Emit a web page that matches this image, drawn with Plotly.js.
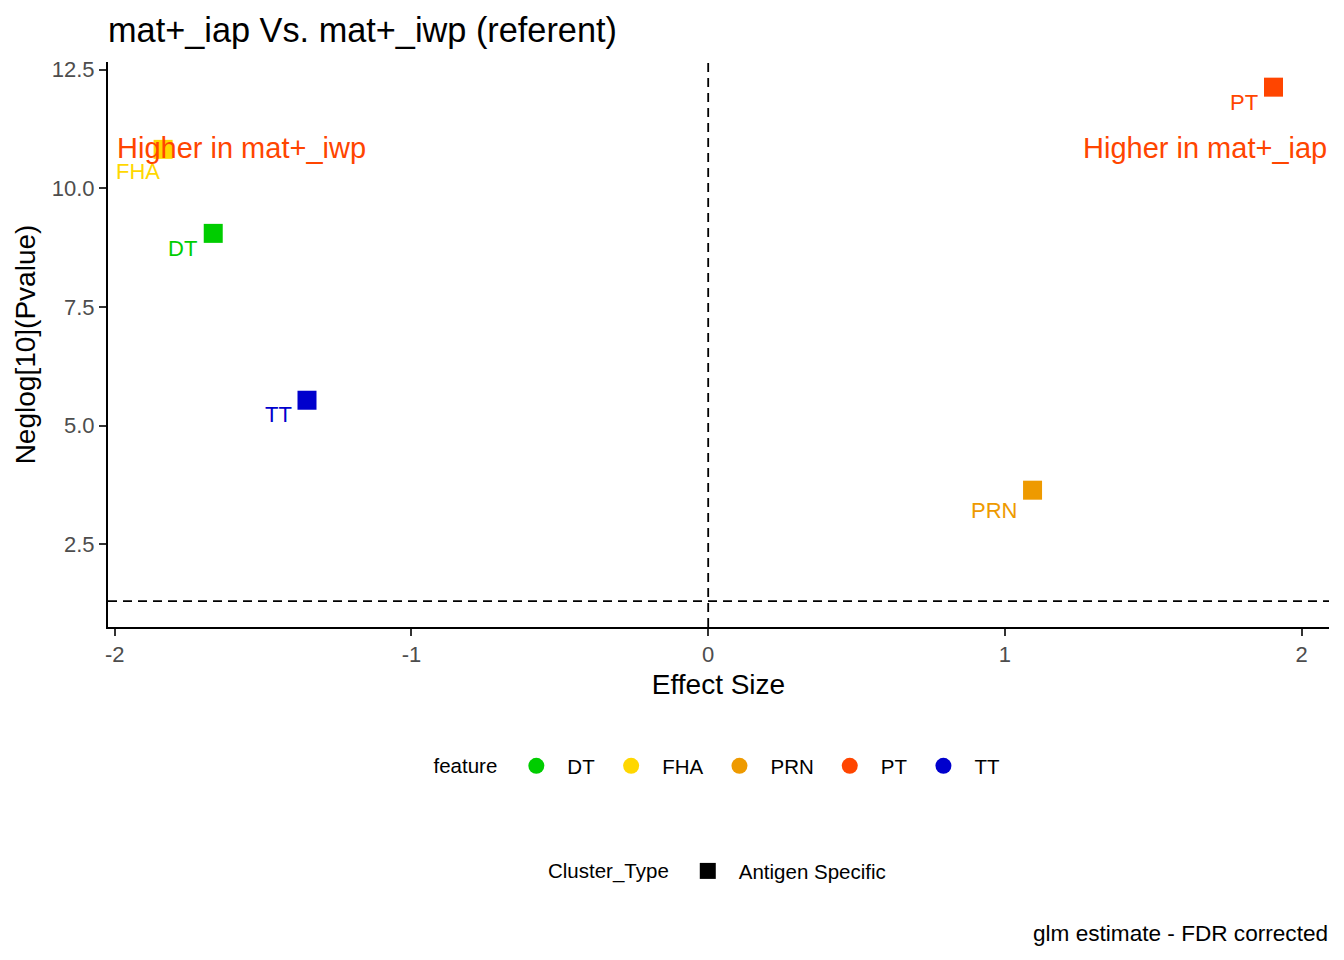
<!DOCTYPE html>
<html>
<head>
<meta charset="utf-8">
<script src="https://cdn.plot.ly/plotly-3.0.1.min.js"></script>
<style>html,body{margin:0;padding:0;background:#fff;}#chart{width:1344px;height:960px;}</style>
</head>
<body>
<div id="chart"></div>
<script>
// ---- data ----
const features = ["DT", "FHA", "PRN", "PT", "TT"];
const effectSize = [-1.668, -1.837, 1.093, 1.905, -1.352];
const negLogP = [9.05, 10.82, 3.64, 12.13, 5.535];
const featureColors = ["#00CD00", "#FFD700", "#EE9A00", "#FF4500", "#0000CD"];
const clusterTypes = ["Antigen Specific"];
const pThreshold = 1.30103; // -log10(0.05)
const xTicks = [-2, -1, 0, 1, 2];
const yTicks = [2.5, 5.0, 7.5, 10.0, 12.5];
const yTickText = ["2.5", "5.0", "7.5", "10.0", "12.5"];
const sideLabels = ["Higher in mat+_iwp", "Higher in mat+_iap"];

// ---- label placement (pixel offsets from each point, repel-style) ----
const labelStyle = {
  DT:  {anchor: "right", dx: -14, dy: -15},
  FHA: {anchor: "right", dx: -1,  dy: -22},
  PRN: {anchor: "right", dx: -14, dy: -20},
  PT:  {anchor: "right", dx: -14, dy: -15},
  TT:  {anchor: "right", dx: -13, dy: -14}
};

const FONT = "Liberation Sans, Arial, sans-serif";
const traces = [];

// points (squares) per feature
features.forEach((f, i) => {
  traces.push({
    type: "scatter", mode: "markers",
    x: [effectSize[i]], y: [negLogP[i]],
    marker: {symbol: "square", size: 19, color: featureColors[i]},
    showlegend: false, hoverinfo: "x+y+name", name: f, cliponaxis: false
  });
});
// feature legend (circles)
features.forEach((f, i) => {
  traces.push({
    type: "scatter", mode: "markers", x: [null], y: [null],
    marker: {symbol: "circle", size: 19, color: featureColors[i]},
    name: f, legend: "legend", showlegend: true
  });
});
// Cluster_Type legend
clusterTypes.forEach((c) => {
  traces.push({
    type: "scatter", mode: "markers", x: [null], y: [null],
    marker: {symbol: "square", size: 19, color: "#000000"},
    name: c, legend: "legend2", showlegend: true
  });
});

const annotations = [];
features.forEach((f, i) => {
  const s = labelStyle[f];
  annotations.push({
    x: effectSize[i], y: negLogP[i], xref: "x", yref: "y",
    text: f, showarrow: false, xanchor: s.anchor, yanchor: "middle",
    xshift: s.dx, yshift: s.dy,
    font: {family: FONT, size: 22, color: featureColors[i]}
  });
});
annotations.push({
  x: xTicks[0], y: 10.85, xref: "x", yref: "y", text: sideLabels[0],
  showarrow: false, xanchor: "left", yanchor: "middle",
  font: {family: FONT, size: 29, color: "#FF4500"}
});
annotations.push({
  x: 1, y: 10.85, xref: "paper", yref: "y", text: sideLabels[1],
  showarrow: false, xanchor: "right", yanchor: "middle",
  font: {family: FONT, size: 29, color: "#FF4500"}
});
annotations.push({
  x: 1.001, y: -0.5416, xref: "paper", yref: "paper", text: "glm estimate - FDR corrected",
  showarrow: false, xanchor: "right", yanchor: "middle",
  font: {family: FONT, size: 22.6, color: "#000000"}
});

const legendCommon = {
  orientation: "h", x: 0.5, xanchor: "center", yanchor: "middle",
  font: {family: FONT, size: 20.5, color: "#000000"},
  itemsizing: "trace", itemwidth: 52, bgcolor: "rgba(0,0,0,0)"
};

const layout = {
  width: 1344, height: 960,
  margin: {l: 108, r: 15, t: 62, b: 333},
  paper_bgcolor: "#ffffff", plot_bgcolor: "#ffffff",
  font: {family: FONT, color: "#000000"},
  title: {
    text: "mat+_iap Vs. mat+_iwp (referent)",
    x: 108 / 1344, xref: "container", xanchor: "left",
    y: 1 - 30 / 960, yref: "container", yanchor: "middle",
    font: {family: FONT, size: 34.3, color: "#000000"}
  },
  xaxis: {
    range: [-2.0226, 2.092], tickvals: xTicks, ticktext: xTicks.map(String),
    showgrid: false, zeroline: false, showline: true, linecolor: "#000000", linewidth: 2,
    ticks: "outside", ticklen: 7, tickwidth: 2, tickcolor: "#333333",
    tickfont: {family: FONT, size: 22, color: "#4D4D4D"},
    title: {text: "Effect Size", font: {family: FONT, size: 28, color: "#000000"}, standoff: 8},
    automargin: false, fixedrange: true
  },
  yaxis: {
    range: [0.758, 12.66], tickvals: yTicks, ticktext: yTickText,
    showgrid: false, zeroline: false, showline: true, linecolor: "#000000", linewidth: 2,
    ticks: "outside", ticklen: 7, tickwidth: 2, tickcolor: "#333333",
    tickfont: {family: FONT, size: 22, color: "#4D4D4D"},
    title: {text: "Neglog[10](Pvalue)", font: {family: FONT, size: 28, color: "#000000"}, standoff: 8},
    automargin: false, fixedrange: true
  },
  shapes: [
    {type: "line", xref: "x", yref: "paper", x0: 0, x1: 0, y0: 0, y1: 1,
     line: {color: "#000000", width: 1.8, dash: "9px,6px"}},
    {type: "line", xref: "paper", yref: "y", x0: 0, x1: 1, y0: pThreshold, y1: pThreshold,
     line: {color: "#000000", width: 1.8, dash: "9px,6px"}}
  ],
  annotations: annotations,
  legend: Object.assign({}, legendCommon, {
    y: -0.246,
    title: {text: "feature", side: "left", font: {family: FONT, size: 20.5, color: "#000000"}}
  }),
  legend2: Object.assign({}, legendCommon, {
    y: -0.432,
    title: {text: "Cluster_Type", side: "left", font: {family: FONT, size: 20.5, color: "#000000"}}
  }),
  showlegend: true
};

Plotly.newPlot("chart", traces, layout, {displayModeBar: false, staticPlot: true});
</script>
</body>
</html>
